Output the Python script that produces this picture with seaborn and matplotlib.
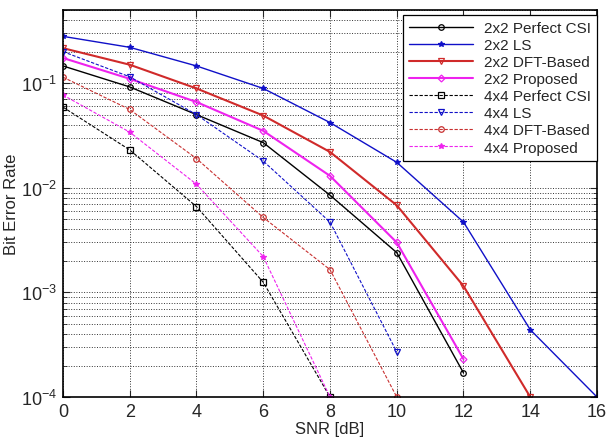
import numpy as np
import pandas as pd
import seaborn as sns
import matplotlib.pyplot as plt
from matplotlib.ticker import LogLocator, NullFormatter

snr = [0, 2, 4, 6, 8, 10, 12, 14, 16]

# BER values (shorter lists = curve stops earlier)
p22_perfect = [0.146, 0.092, 0.050, 0.027, 0.0085, 0.0024, 1.7e-4]
p22_ls = [0.28, 0.22, 0.146, 0.089, 0.042, 0.0175, 0.0047, 4.4e-4, 1e-4]
p22_dft = [0.216, 0.15, 0.089, 0.049, 0.022, 0.0068, 0.00115, 1e-4]
p22_prop = [0.174, 0.11, 0.066, 0.035, 0.013, 0.0030, 2.3e-4]
p44_perfect = [0.059, 0.023, 0.0066, 0.00125, 1e-4]
p44_ls = [0.20, 0.115, 0.050, 0.018, 0.0047, 2.7e-4]
p44_dft = [0.114, 0.056, 0.019, 0.0052, 0.00165, 1e-4]
p44_prop = [0.077, 0.034, 0.0108, 0.0022, 1e-4]

labels = ['2x2 Perfect CSI', '2x2 LS', '2x2 DFT-Based', '2x2 Proposed',
          '4x4 Perfect CSI', '4x4 LS', '4x4 DFT-Based', '4x4 Proposed']
series = [p22_perfect, p22_ls, p22_dft, p22_prop,
          p44_perfect, p44_ls, p44_dft, p44_prop]

# style per series: color, marker, linestyle, linewidth, marker fill
styles = [
    ('black', 'o', '-', 1.0, 'none'),
    ('#1010c8', '*', '-', 1.0, 'full'),
    ('#d02a2a', 'v', '-', 1.5, 'none'),
    ('#ee22ee', 'D', '-', 1.5, 'none'),
    ('black', 's', '--', 0.8, 'none'),
    ('#1010c8', 'v', '--', 0.8, 'none'),
    ('#c83030', 'o', '--', 0.8, 'none'),
    ('#ee22ee', '*', '--', 0.8, 'full'),
]

rows = []
for lab, vals in zip(labels, series):
    for x, v in zip(snr, vals):
        rows.append({'SNR': x, 'BER': v, 'scheme': lab})
df = pd.DataFrame(rows)

sns.set_style('ticks')
plt.rcParams['font.family'] = ['Liberation Sans', 'DejaVu Sans']
plt.rcParams['mathtext.default'] = 'regular'

fig = plt.figure(figsize=(6.08, 4.39), dpi=100)
ax = fig.add_axes([0.1036, 0.0934, 0.8783, 0.8815])

for lab, (c, m, ls, lw, fill) in zip(labels, styles):
    d = df[df['scheme'] == lab]
    ax.plot(d['SNR'], d['BER'], color=c, linestyle=ls, linewidth=lw,
            marker=m, markersize=4 if m != 'D' else 3.5,
            markerfacecolor=(c if fill == 'full' else 'none'),
            markeredgecolor=c, markeredgewidth=0.9, label=lab,
            dashes=(3, 1.5) if ls == '--' else (None, None))

ax.set_yscale('log')
ax.set_xlim(0, 16)
ax.set_ylim(1e-4, 0.5)
ax.set_xticks(snr)
ax.yaxis.set_major_locator(LogLocator(base=10, numticks=10))
ax.yaxis.set_minor_locator(LogLocator(base=10, subs=np.arange(2, 10), numticks=20))
ax.yaxis.set_minor_formatter(NullFormatter())

ax.grid(True, which='major', axis='both', linestyle=':', color='#333333', linewidth=0.7)
ax.grid(True, which='minor', axis='y', linestyle=':', color='#333333', linewidth=0.7)

ax.tick_params(which='both', direction='in', top=True, right=True,
               labelsize=13, pad=4)
ax.tick_params(which='major', length=5)
ax.tick_params(which='minor', length=3)
for s in ax.spines.values():
    s.set_linewidth(1.2)
    s.set_color('black')

ax.set_xlabel('SNR [dB]', fontsize=12, labelpad=1)
ax.set_ylabel('Bit Error Rate', fontsize=12, labelpad=2)

leg = ax.legend(loc='upper right', bbox_to_anchor=(1.0, 0.987), fontsize=11,
                frameon=True, fancybox=False, edgecolor='black', framealpha=1,
                borderaxespad=0, labelspacing=0.2, handlelength=4.2,
                handletextpad=0.7, borderpad=0.4)
leg.get_frame().set_linewidth(0.9)

fig.savefig('out.png', dpi=100)
